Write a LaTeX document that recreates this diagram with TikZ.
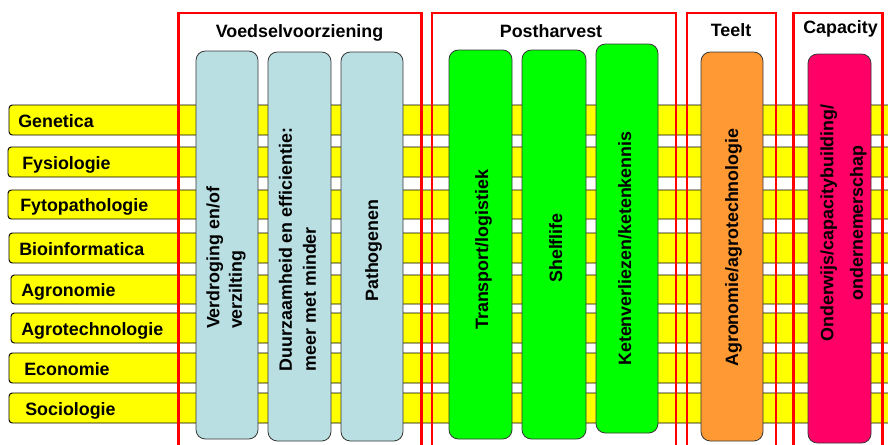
\documentclass[tikz,border=0pt]{standalone}
\usepackage{fontspec}
\setmainfont{Liberation Sans}
\usepackage{tikz}
\definecolor{baryellow}{RGB}{255,255,0}
\definecolor{colblue}{RGB}{185,223,227}
\definecolor{colgreen}{RGB}{0,255,0}
\definecolor{colorange}{RGB}{255,153,51}
\definecolor{colpink}{RGB}{255,0,102}
\definecolor{boxedge}{RGB}{55,55,55}
\definecolor{framered}{RGB}{255,0,0}
\tikzset{
  discbar/.style={draw=black, fill=baryellow, line width=0.7pt, rounded corners=2.5pt},
  colbox/.style={draw=boxedge, line width=0.6pt, rounded corners=7pt},
  groupframe/.style={draw=framered, line width=1.9pt},
  lbl/.style={font=\fontsize{13.4}{16}\selectfont\bfseries, inner sep=0pt},
  hdr/.style={lbl, anchor=base},
  coltext/.style={lbl, rotate=90, anchor=base west},
  coltwo/.style={lbl, rotate=90, anchor=center, align=left}
}

\begin{document}
\begin{tikzpicture}[x=0.75pt, y=-0.75pt]
  \useasboundingbox (0,0) rectangle (888,444);
  \clip (0,0) rectangle (888,444);
  % discipline bars
  \foreach \nm/\txt/\xa/\ya/\yb/\xt in {gen/Genetica/9/105/135/18, fys/Fysiologie/8/147/177/22,
      fyto/Fytopathologie/8/190/219/20, bio/Bioinformatica/9/233/263/19,
      agr/Agronomie/11/275/304/21, agt/Agrotechnologie/11/313/343/21,
      eco/Economie/9/353/383/24, soc/Sociologie/9/393/423/25} {
    \draw[discbar] (\xa,\ya) rectangle (900,\yb);
    \node[lbl, anchor=base west] (\nm) at (\xt,{(\ya+\yb)/2+7}) {\txt};
  }
  % red group frames
  \foreach \xa/\xb in {178.5/421.5, 432/676, 687/776, 793.5/882.5}
    \draw[groupframe] (\xa,460) -- (\xa,13) -- (\xb,13) -- (\xb,460);
  \node[hdr] (voedsel) at (299.5,37) {Voedselvoorziening};
  \node[hdr] (postharvest) at (551,37) {Postharvest};
  \node[hdr] (teelt) at (731,36) {Teelt};
  \node[hdr] (capacity) at (840.5,33.5) {Capacity};
  % theme columns
  \foreach \xa/\xb/\ya/\yb/\c in {196/258/51/439/colblue, 268/331/52/441/colblue,
      341/403/52/441/colblue, 449/512/50/439/colgreen, 522/586/50/439/colgreen,
      596/658/44/433/colgreen, 701/763/52/441/colorange, 808/871/54/443/colpink}
    \draw[colbox, fill=\c] (\xa,\ya) rectangle (\xb,\yb);
  \node[coltwo, font=\fontsize{13.4}{17}\selectfont\bfseries] (verdroging) at (226,258) {Verdroging en/of\\verzilting};
  \node[coltwo, font=\fontsize{13.4}{18}\selectfont\bfseries] (duurzaam) at (297.5,249.5) {Duurzaamheid en efficientie:\\meer met minder};
  \node[coltext] (pathogenen) at (378,302) {Pathogenen};
  \node[coltext] (transport) at (488,330) {Transport/logistiek};
  \node[coltext] (shelflife) at (562,283) {Shelflife};
  \node[coltext] (keten) at (631,366) {Ketenverliezen/ketenkennis};
  \node[coltext] (agrotech) at (738,367) {Agronomie/agrotechnologie};
  \node[coltwo, align=center, font=\fontsize{13.4}{22}\selectfont\bfseries] (onderwijs) at (843.5,223) {Onderwijs/capacitybuilding/\\ondernemerschap};
\end{tikzpicture}
\end{document}
